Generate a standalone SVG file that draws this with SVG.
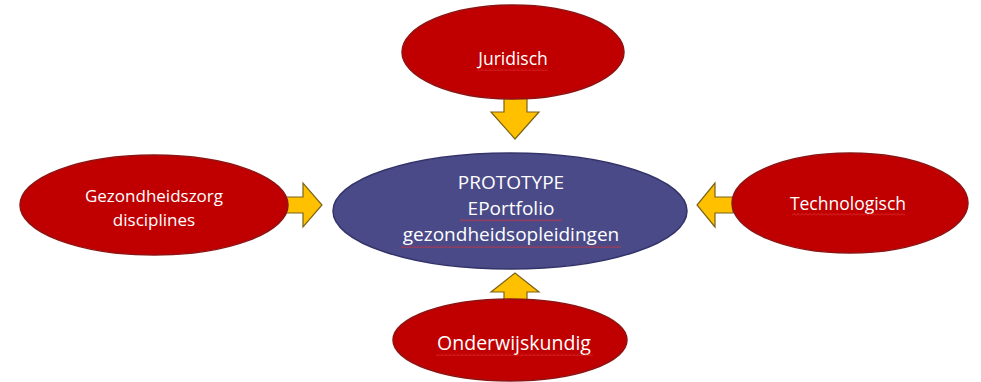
<svg xmlns="http://www.w3.org/2000/svg" width="981" height="382" viewBox="0 0 981 382">
<style>
.red{fill:#C00000;stroke:#8E1414;stroke-width:1.5}
.blue{fill:#4A4A88;stroke:#34346A;stroke-width:1.5}
.arr{fill:#FFC000;stroke:#7A6318;stroke-width:1.2;stroke-linejoin:miter}
.t{font-family:"Open Sans","Liberation Sans",sans-serif;fill:#FFFFFF;text-anchor:middle}
.wave{fill:url(#squig)}
</style>
<defs>
<pattern id="squig" x="0" y="0" width="4" height="3" patternUnits="userSpaceOnUse">
<polyline points="0,2.5 2,0.5 4,2.5" fill="none" stroke="#E03030" stroke-width="0.9"/>
</pattern>
</defs>
<rect width="981" height="382" fill="#FFFFFF"/>
<g id="connectors">
<polygon class="arr" points="504,97 527,97 527,112 539,112 515,139 491,112 504,112"/>
<polygon class="arr" points="285,197 303,197 303,183 322,205 303,227 303,213 285,213"/>
<polygon class="arr" points="733,197 715,197 715,183 697,205 715,227 715,213 733,213"/>
<polygon class="arr" points="504,306 527,306 527,292 539,292 515,273 491,292 504,292"/>
</g>
<g id="juridisch">
<ellipse class="red" cx="513" cy="52" rx="111" ry="47"/>
<text class="t" x="513" y="65" font-size="17.5">Juridisch</text>
<rect class="wave" x="478" y="68" width="70" height="3"/>
</g>
<g id="gezondheidszorg">
<ellipse class="red" cx="154" cy="205" rx="134" ry="50"/>
<text class="t" x="154" y="202" font-size="17">Gezondheidszorg</text>
<text class="t" x="154" y="226" font-size="17">disciplines</text>
</g>
<g id="prototype">
<ellipse class="blue" cx="510" cy="211" rx="177" ry="58"/>
<text class="t" x="511" y="189" font-size="19">PROTOTYPE</text>
<text class="t" x="511" y="215" font-size="19">EPortfolio</text>
<rect class="wave" x="460" y="219" width="102" height="3"/>
<text class="t" x="511" y="241" font-size="19">gezondheidsopleidingen</text>
<rect class="wave" x="401" y="245" width="220" height="3"/>
</g>
<g id="technologisch">
<ellipse class="red" cx="850" cy="203" rx="118" ry="50"/>
<text class="t" x="848" y="210" font-size="17.5">Technologisch</text>
<rect class="wave" x="792" y="213" width="113" height="3"/>
</g>
<g id="onderwijskundig">
<ellipse class="red" cx="510" cy="340" rx="117" ry="41"/>
<text class="t" x="514" y="350" font-size="19.5">Onderwijskundig</text>
<rect class="wave" x="436" y="353" width="157" height="3"/>
</g>
</svg>
